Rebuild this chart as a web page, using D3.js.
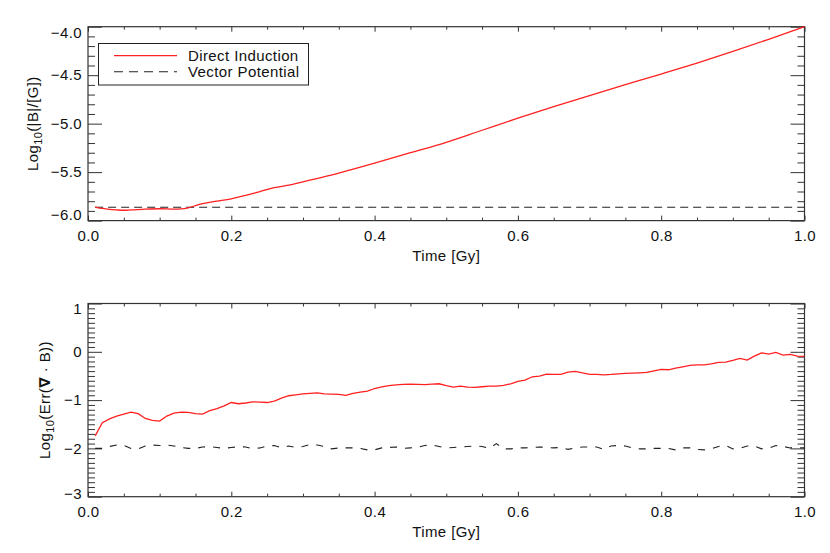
<!DOCTYPE html>
<html><head><meta charset="utf-8">
<script src="https://cdn.jsdelivr.net/npm/d3@7"></script>
<style>
body{margin:0;background:#fff}
svg{display:block}
text{font-family:"Liberation Sans",Arial,Helvetica,sans-serif;fill:#111;letter-spacing:0.4px}
</style>
</head><body>
<svg id="chart" width="830" height="553"></svg>
<script>
// ---------- DATA ----------
const topTime = [0.01,0.02,0.03,0.04,0.05,0.06,0.08,0.10,0.12,0.13,0.14,0.15,0.16,0.18,0.20,0.22,0.24,0.26,0.28,0.30,0.35,0.40,0.45,0.50,0.55,0.60,0.65,0.70,0.75,0.80,0.85,0.90,0.95,1.00];
const topDirect = [-5.860,-5.875,-5.885,-5.890,-5.893,-5.890,-5.882,-5.878,-5.882,-5.880,-5.868,-5.845,-5.825,-5.800,-5.775,-5.740,-5.700,-5.660,-5.635,-5.600,-5.510,-5.408,-5.300,-5.192,-5.068,-4.944,-4.825,-4.710,-4.598,-4.488,-4.375,-4.255,-4.130,-4.000];
const topVectorTime = [0.01,1.00];
const topVector = [-5.862,-5.862];

const botTime = [0.01,0.02,0.03,0.04,0.05,0.06,0.07,0.08,0.09,0.10,
0.11,0.12,0.13,0.14,0.15,0.16,0.17,0.18,0.19,0.20,
0.21,0.22,0.23,0.24,0.25,0.26,0.27,0.28,0.29,0.30,
0.31,0.32,0.33,0.34,0.35,0.36,0.37,0.38,0.39,0.40,
0.41,0.42,0.43,0.44,0.45,0.46,0.47,0.48,0.49,0.50,
0.51,0.52,0.53,0.54,0.55,0.56,0.57,0.58,0.59,0.60,
0.61,0.62,0.63,0.64,0.65,0.66,0.67,0.68,0.69,0.70,
0.71,0.72,0.73,0.74,0.75,0.76,0.77,0.78,0.79,0.80,
0.81,0.82,0.83,0.84,0.85,0.86,0.87,0.88,0.89,0.90,
0.91,0.92,0.93,0.94,0.95,0.96,0.97,0.98,0.99,1.00];
const botDirect = [-1.74,-1.47,-1.39,-1.33,-1.29,-1.25,-1.28,-1.38,-1.42,-1.435,
-1.33,-1.27,-1.25,-1.255,-1.28,-1.29,-1.22,-1.175,-1.12,-1.05,
-1.075,-1.06,-1.035,-1.04,-1.05,-1.02,-0.96,-0.91,-0.89,-0.87,
-0.86,-0.85,-0.87,-0.875,-0.88,-0.90,-0.86,-0.835,-0.815,-0.76,
-0.725,-0.70,-0.685,-0.676,-0.67,-0.675,-0.68,-0.67,-0.662,-0.70,
-0.73,-0.71,-0.73,-0.738,-0.724,-0.71,-0.71,-0.696,-0.662,-0.614,
-0.586,-0.517,-0.503,-0.462,-0.469,-0.469,-0.42,-0.406,-0.435,-0.469,
-0.469,-0.476,-0.469,-0.455,-0.448,-0.441,-0.435,-0.427,-0.393,-0.365,
-0.372,-0.338,-0.31,-0.282,-0.269,-0.269,-0.248,-0.22,-0.213,-0.178,
-0.137,-0.172,-0.089,-0.021,-0.048,-0.014,-0.068,-0.055,-0.089,-0.096];
const botVector = [-2.00,-2.00,-1.96,-1.93,-1.94,-2.00,-2.01,-1.95,-1.93,-1.94,
-1.93,-1.95,-1.98,-2.00,-2.00,-1.97,-1.966,-1.98,-2.00,-1.98,
-1.966,-1.97,-2.01,-1.99,-1.95,-1.94,-1.99,-1.95,-1.98,-1.96,
-1.92,-1.93,-1.96,-2.01,-1.99,-1.99,-1.99,-2.00,-2.03,-2.03,
-1.99,-1.98,-1.97,-2.00,-1.99,-1.98,-1.94,-1.93,-1.96,-1.99,
-1.98,-1.97,-1.96,-1.95,-1.96,-2.00,-1.90,-2.01,-2.01,-1.99,
-1.99,-1.98,-1.97,-1.98,-1.99,-1.98,-2.02,-1.99,-1.97,-1.97,
-1.97,-2.02,-1.95,-1.94,-1.95,-1.99,-2.01,-2.01,-2.00,-2.00,
-2.00,-2.03,-1.99,-1.99,-2.02,-2.03,-2.01,-1.96,-1.94,-2.01,
-2.00,-1.95,-1.95,-2.01,-2.00,-1.94,-1.96,-1.99,-1.99,-1.99];

const xTickValues = [0.0,0.2,0.4,0.6,0.8,1.0];
const xTickLabels = ["0.0","0.2","0.4","0.6","0.8","1.0"];
const yTopTickValues = [-6.0,-5.5,-5.0,-4.5,-4.0];
const yTopTickLabels = ["\u22126.0","\u22125.5","\u22125.0","\u22124.5","\u22124.0"];
const yBotTickValues = [-3,-2,-1,0,1];
const yBotTickLabels = ["\u22123","\u22122","\u22121","0","1"];
const legendLabels = ["Direct Induction","Vector Potential"];
const xTitle = "Time [Gy]";

// ---------- LAYOUT ----------
const svg = d3.select("#chart");
const L = 88, R = 804.5;
const FS = 15;
const panels = [
  {top:26.7, bottom:220.6, domain:[-6,-4], ticks:yTopTickValues, labels:yTopTickLabels, minorStep:0.1,
   endShift:[-5.5,5.5], titleX:38},
  {top:303.5, bottom:496.7, domain:[-3,1], ticks:yBotTickValues, labels:yBotTickLabels, minorStep:0.1,
   endShift:[-3.5,5.5], titleX:49.5}
];

const x = d3.scaleLinear().domain([0,1]).range([L,R]);
const xMinor = d3.range(0,1.0001,0.05).map(v=>+v.toFixed(2)).filter(v=>!xTickValues.some(t=>Math.abs(t-v)<1e-6));

function drawAxes(p, y){
  const g = svg.append("g");
  const xb = g.append("g").attr("transform",`translate(0,${p.bottom})`)
    .call(d3.axisBottom(x).tickValues(xTickValues).tickSize(-5).tickSizeOuter(0).tickPadding(10)
      .tickFormat((d,i)=>xTickLabels[i]));
  xb.append("g").call(d3.axisBottom(x).tickValues(xMinor).tickSize(-3).tickSizeOuter(0).tickFormat(""));
  const xt = g.append("g").attr("transform",`translate(0,${p.top})`)
    .call(d3.axisTop(x).tickValues(xTickValues).tickSize(-5).tickSizeOuter(0).tickFormat(""));
  xt.append("g").call(d3.axisTop(x).tickValues(xMinor).tickSize(-3).tickSizeOuter(0).tickFormat(""));
  const [d0,d1] = p.domain;
  const nMin = Math.round((d1-d0)/p.minorStep);
  const yMinor = d3.range(0,nMin+1).map(i=>+(d0+i*p.minorStep).toFixed(3))
     .filter(v=>!p.ticks.some(t=>Math.abs(t-v)<1e-6));
  const yl = g.append("g").attr("transform",`translate(${L},0)`)
    .call(d3.axisLeft(y).tickValues(p.ticks).tickSize(-14).tickSizeOuter(0).tickPadding(6)
      .tickFormat((d,i)=>p.labels[i]));
  yl.append("g").call(d3.axisLeft(y).tickValues(yMinor).tickSize(-7).tickSizeOuter(0).tickFormat(""));
  const yr = g.append("g").attr("transform",`translate(${R},0)`)
    .call(d3.axisRight(y).tickValues(p.ticks).tickSize(-14).tickSizeOuter(0).tickFormat(""));
  yr.append("g").call(d3.axisRight(y).tickValues(yMinor).tickSize(-7).tickSizeOuter(0).tickFormat(""));

  g.selectAll(".domain").remove();
  g.selectAll(".tick line").attr("stroke","#333").attr("stroke-width",1);
  g.selectAll(".tick text").attr("font-size",FS).attr("font-family",'"Liberation Sans",Arial,sans-serif').attr("fill","#111");
  const ytxt = yl.selectAll(".tick text").filter(function(){return this.textContent!=="";});
  const n = ytxt.size();
  ytxt.each(function(d,i){
    if(i===0) d3.select(this).attr("y",p.endShift[0]);
    if(i===n-1) d3.select(this).attr("y",p.endShift[1]);
  });
  g.append("rect").attr("x",L).attr("y",p.top).attr("width",R-L).attr("height",p.bottom-p.top)
    .attr("fill","none").attr("stroke","#333").attr("stroke-width",1.2);
  g.append("text").attr("x",(L+R)/2).attr("y",p.bottom+40.5).attr("text-anchor","middle")
    .attr("font-size",FS).text(xTitle);
}

const line = (y)=>d3.line().x(d=>x(d[0])).y(d=>y(d[1]));

// ---------- TOP PANEL ----------
{
  const p = panels[0];
  const y = d3.scaleLinear().domain(p.domain).range([p.bottom,p.top]);
  drawAxes(p,y);
  svg.append("path").datum(topVectorTime.map((t,i)=>[t,topVector[i]]))
    .attr("d",line(y)).attr("fill","none").attr("stroke","#222").attr("stroke-width",1.1)
    .attr("stroke-dasharray","8,5");
  svg.append("path").datum(topTime.map((t,i)=>[t,topDirect[i]]))
    .attr("d",line(y).curve(d3.curveMonotoneX)).attr("fill","none").attr("stroke","#ff2020").attr("stroke-width",1.3);
  const t = svg.append("text").attr("transform",`translate(${p.titleX},${(p.top+p.bottom)/2}) rotate(-90)`)
    .attr("text-anchor","middle").attr("font-size",FS);
  t.append("tspan").text("Log");
  t.append("tspan").attr("font-size",11).attr("dy",4).text("10");
  t.append("tspan").attr("dy",-4).text("(|B|/[G])");
  const lg = svg.append("g");
  lg.append("rect").attr("x",98.5).attr("y",43.5).attr("width",210).attr("height",41.5)
    .attr("fill","#fff").attr("stroke","#222").attr("stroke-width",1);
  lg.append("line").attr("x1",114).attr("x2",177).attr("y1",55.7).attr("y2",55.7)
    .attr("stroke","#ff2020").attr("stroke-width",1.3);
  lg.append("line").attr("x1",114).attr("x2",177).attr("y1",71.7).attr("y2",71.7)
    .attr("stroke","#222").attr("stroke-width",1.1).attr("stroke-dasharray","9,6");
  lg.append("text").attr("x",188).attr("y",60.7).attr("font-size",FS).text(legendLabels[0]);
  lg.append("text").attr("x",188).attr("y",77.3).attr("font-size",FS).text(legendLabels[1]);
}

// ---------- BOTTOM PANEL ----------
{
  const p = panels[1];
  const y = d3.scaleLinear().domain(p.domain).range([p.bottom,p.top]);
  drawAxes(p,y);
  svg.append("path").datum(botTime.map((t,i)=>[t,botVector[i]]))
    .attr("d",line(y)).attr("fill","none").attr("stroke","#222").attr("stroke-width",1.1)
    .attr("stroke-dasharray","7,8");
  svg.append("path").datum(botTime.map((t,i)=>[t,botDirect[i]]))
    .attr("d",line(y)).attr("fill","none").attr("stroke","#ff2020").attr("stroke-width",1.3);
  const t = svg.append("text").attr("transform",`translate(${p.titleX},${(p.top+p.bottom)/2}) rotate(-90)`)
    .attr("text-anchor","middle").attr("font-size",FS);
  t.append("tspan").text("Log");
  t.append("tspan").attr("font-size",11).attr("dy",4).text("10");
  t.append("tspan").attr("dy",-4).text("(Err(");
  t.append("tspan").attr("font-family","DejaVu Sans").attr("font-weight","bold").text("\u2207");
  t.append("tspan").text(" \u00B7 B))");
}
</script>
</body></html>
